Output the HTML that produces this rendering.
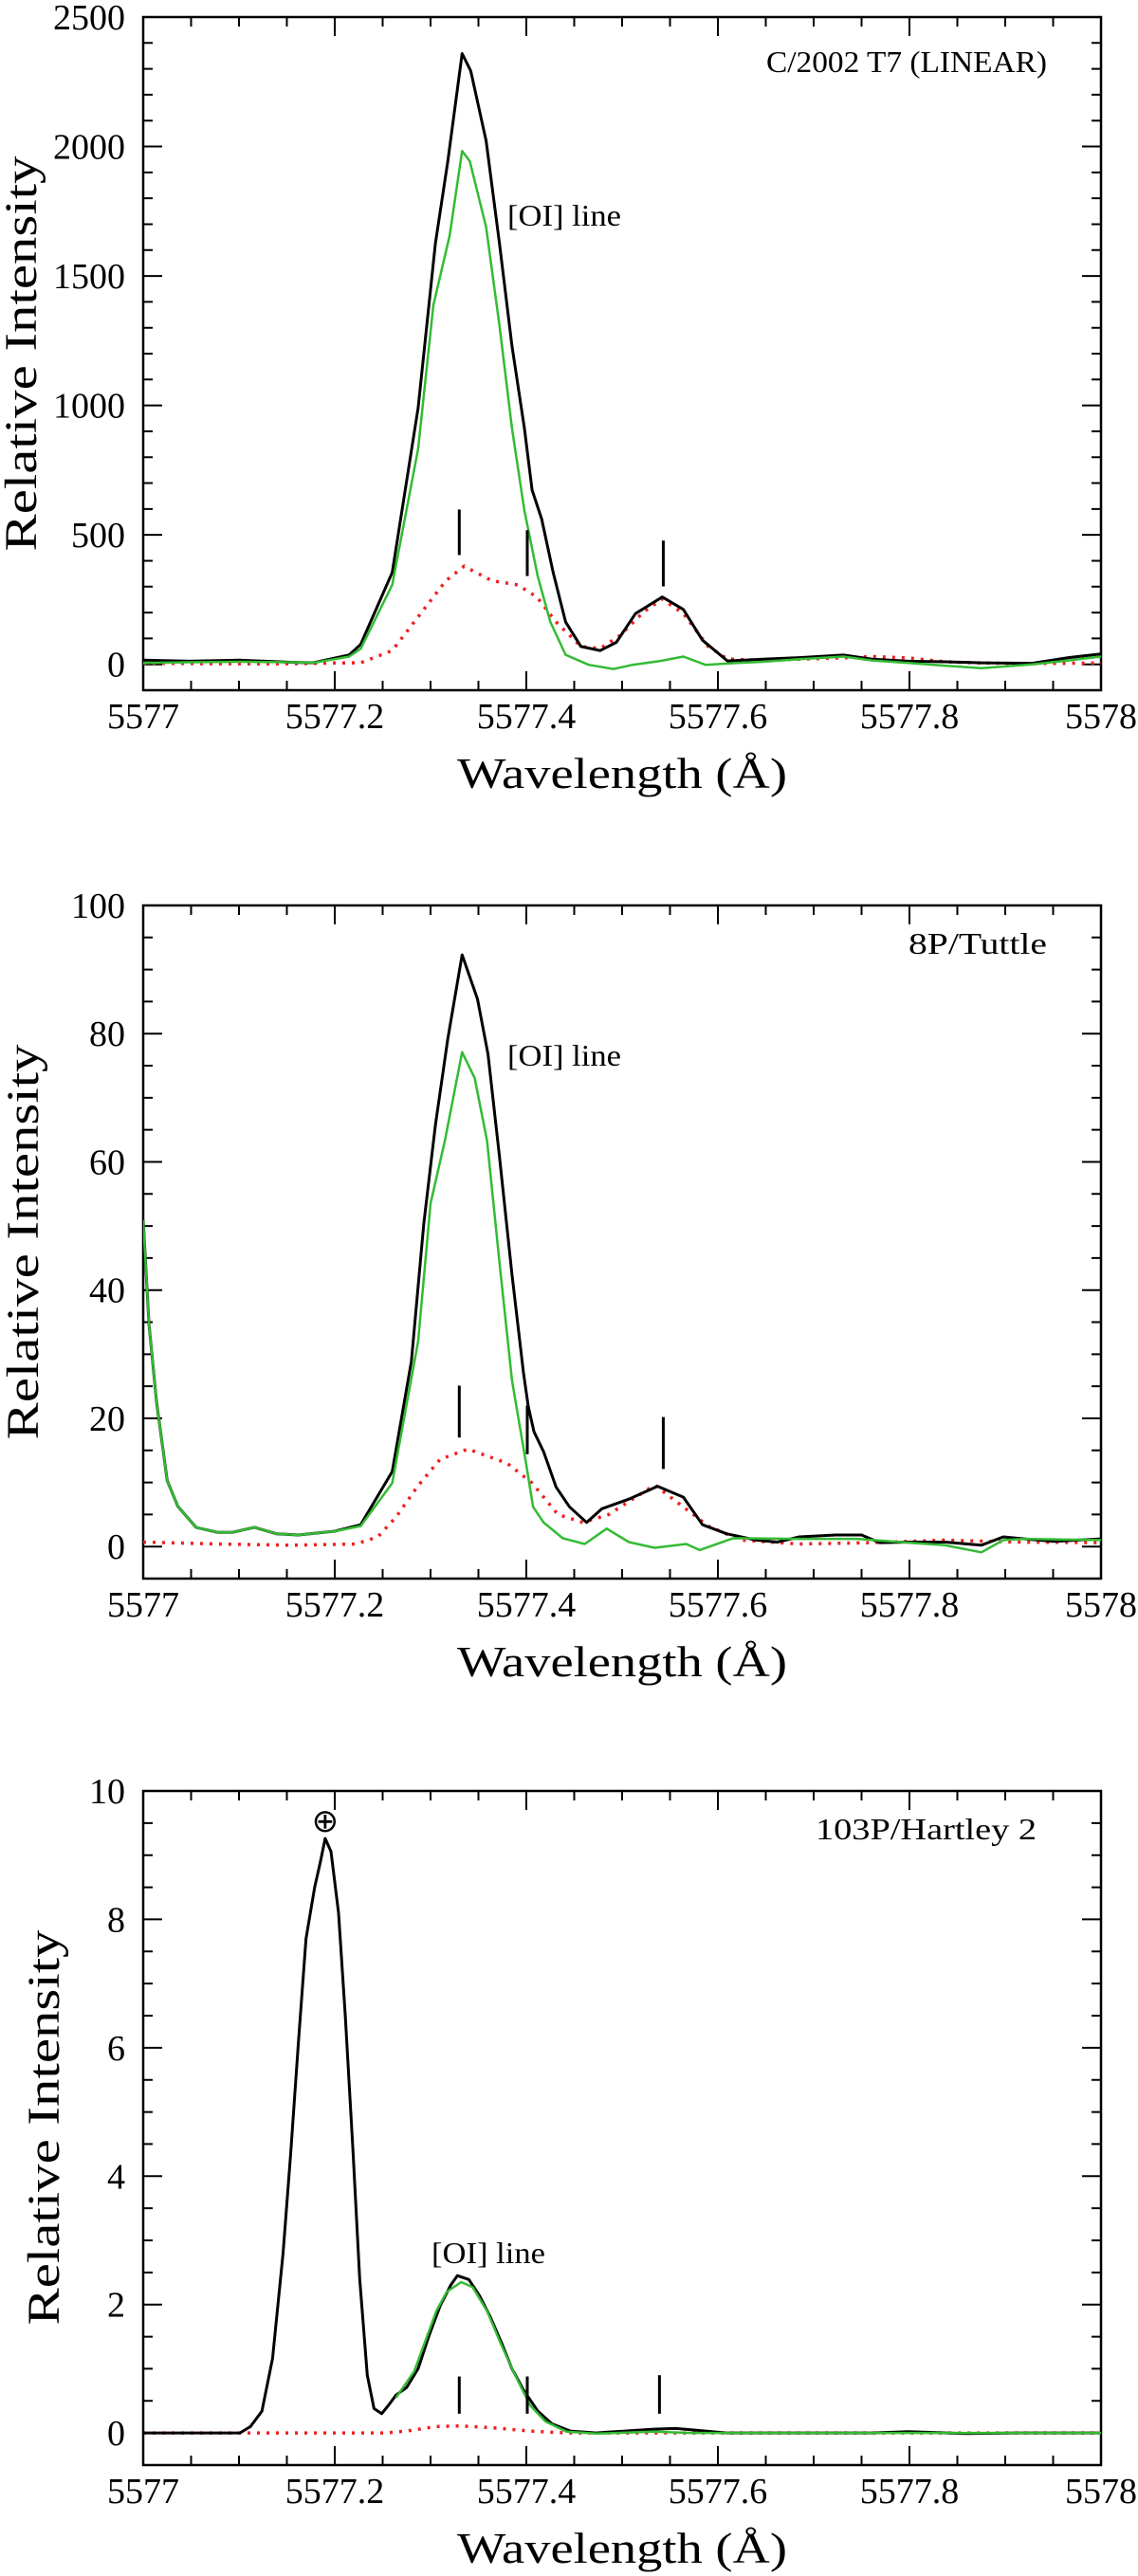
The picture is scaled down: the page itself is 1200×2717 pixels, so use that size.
<!DOCTYPE html>
<html><head><meta charset="utf-8"><style>
html,body{margin:0;padding:0;background:#fff;}
svg{display:block;}
text{font-family:"Liberation Serif",serif;fill:#000;}
</style></head><body>
<svg id="fig" width="1200" height="2717" viewBox="0 0 1200 2717" xmlns="http://www.w3.org/2000/svg"></svg>
<script>
// ===== Panel 1: C/2002 T7 (LINEAR) =====  (wavelength offsets from 5577 Å)
const p1TotWl = [0,.048,.101,.154,.177,.2,.215,.227,.26,.287,.305,.318,.333,.342,.358,.372,.385,.398,.406,.416,.428,.441,.457,.477,.494,.514,.542,.564,.584,.61,.647,.685,.731,.761,.799,.837,.875,.928,.966,1];
const p1Total = [16,12,16,8,6,24,36,77,355,990,1625,1943,2359,2292,2022,1625,1229,911,673,561,355,164,69,53,85,196,260,212,93,13,20,26,36,20,12,10,6,4,26,40];
const p1OIWl = [0,.048,.101,.154,.177,.2,.215,.227,.26,.287,.303,.32,.333,.341,.358,.372,.385,.398,.412,.425,.441,.465,.491,.511,.54,.564,.587,.623,.647,.685,.731,.761,.799,.837,.875,.928,.966,1];
const p1OI = [5,8,10,8,6,20,30,60,307,832,1387,1657,1983,1943,1689,1308,911,593,339,164,37,-2,-18,-2,13,30,-2,6,10,20,30,15,5,-5,-15,0,15,30];
const p1ModWl = [0,.048,.101,.154,.2,.227,.26,.293,.316,.335,.364,.391,.411,.431,.457,.477,.497,.523,.542,.564,.59,.61,.647,.685,.731,.761,.799,.837,.875,.928,1];
const p1Model = [5,3,2,2,5,6,53,212,323,379,323,307,260,164,69,61,109,204,252,196,69,21,15,20,25,30,25,10,5,3,5];
const p1Ticks = [0,500,1000,1500,2000,2500];
const p1Marks = [[.330,422,598],[.401,341,518],[.543,301,478]];

// ===== Panel 2: 8P/Tuttle =====
const p2TotWl = [0,.006,.014,.025,.036,.055,.078,.093,.116,.139,.162,.2,.227,.26,.28,.293,.305,.318,.333,.349,.36,.372,.385,.397,.402,.408,.418,.431,.445,.463,.479,.507,.537,.564,.584,.609,.64,.662,.685,.723,.75,.769,.799,.837,.875,.898,.92,.951,1];
const p2Total = [50.9,34.7,22.5,10.3,6.3,3,2.2,2.2,3,2,1.8,2.4,3.4,11.7,28.9,50.4,65.7,79.2,92.3,85.4,76.8,60.8,42.4,27.1,21.9,17.9,14.8,9.3,6.2,3.75,5.9,7.4,9.4,7.7,3.4,2,1,0.7,1.5,1.8,1.8,0.6,0.7,0.7,0.2,1.5,1.2,0.8,1.2];
const p2OIWl = [0,.006,.014,.025,.036,.055,.078,.093,.116,.139,.162,.2,.227,.26,.287,.3,.315,.333,.346,.359,.372,.385,.399,.407,.418,.438,.461,.484,.507,.534,.567,.581,.616,.685,.746,.799,.837,.875,.898,.92,1];
const p2OI = [50.9,34.7,22.5,10.3,6.3,3,2.2,2.2,3,2,1.8,2.4,3.2,9.9,32,53.5,63.3,77.1,73.1,63.3,44.3,25.9,13.6,6.2,3.75,1.3,0.4,2.8,0.7,-0.2,0.4,-0.55,1.3,1.2,1.2,0.6,0.2,-0.9,1,1.2,1];
const p2ModWl = [0,.078,.154,.222,.245,.264,.287,.31,.339,.38,.406,.433,.459,.486,.534,.59,.624,.685,.761,.837,.913,1];
const p2Model = [0.7,0.4,0.2,0.4,1.5,4.6,9.5,13.6,15.2,13,9.9,5,3.75,5,9.6,3.2,1,0.4,0.6,1,0.7,0.6];
const p2Ticks = [0,20,40,60,80,100];
const p2Marks = [[.330,17,25.1],[.401,14.4,22],[.543,12.1,20.2]];

// ===== Panel 3: 103P/Hartley 2 =====
const p3TotWl = [0,.078,.101,.112,.124,.135,.146,.154,.162,.17,.179,.185,.19,.196,.204,.211,.219,.226,.234,.241,.249,.256,.264,.275,.287,.298,.31,.321,.328,.34,.351,.362,.374,.385,.397,.412,.427,.446,.473,.503,.533,.556,.579,.609,.685,.761,.799,.86,.913,1];
const p3Total = [0,0,0,0.1,0.34,1.16,2.8,4.35,6.07,7.7,8.5,8.9,9.26,9.06,8.1,6.5,4.4,2.4,0.9,0.38,0.3,0.43,0.59,0.71,1.0,1.5,1.98,2.3,2.45,2.39,2.14,1.82,1.41,1.0,0.67,0.34,0.14,0.03,0,0.03,0.06,0.07,0.04,0,0,0,0.02,-0.01,0,0];
const p3OIWl = [.264,.283,.306,.317,.332,.344,.359,.374,.389,.404,.42,.442,.473,.533,.571,.609,1];
const p3OI = [0.55,0.96,1.9,2.2,2.35,2.27,1.9,1.37,0.88,0.43,0.18,0.02,-0.01,0.02,0,0,0];
const p3ModWl = [0,.253,.275,.306,.332,.366,.404,.442,1];
const p3Model = [0,0,0.03,0.1,0.11,0.08,0.03,0,0];
const p3Ticks = [0,2,4,6,8,10];
const p3Marks = [[.330,0.3,0.88],[.401,0.3,0.88],[.539,0.3,0.9]];

const xTickVals = [0,0.2,0.4,0.6,0.8,1.0];
const xTickLabels = ["5577","5577.2","5577.4","5577.6","5577.8","5578"];

const NS = "http://www.w3.org/2000/svg";
const svg = document.getElementById('fig');
const L = 151, R = 1161;
function mk(tag, attrs, parent){
  const e = document.createElementNS(NS, tag);
  for (const k in attrs) e.setAttribute(k, attrs[k]);
  (parent||svg).appendChild(e);
  return e;
}
function panel(cfg){
  const g = mk('g', {});
  
  
  const T = cfg.T, B = cfg.B;
  const X = w => L + w*(R-L);
  const Y = v => B - (v - cfg.ymin)/(cfg.ymax - cfg.ymin)*(B-T);
  const fr = mk('rect', {x:L, y:T, width:R-L, height:B-T, fill:'none', stroke:'#000', 'stroke-width':2.5}, g);
  
  
  let d = '';
  for (let i=0;i<=20;i++){
    const w = i*0.05, x = X(w), len = (i%4===0)?20:10;
    d += `M${x} ${B}V${B-len}M${x} ${T}V${T+len}`;
  }
  const step = cfg.minor;
  const n0 = Math.ceil(cfg.ymin/step), n1 = Math.floor(cfg.ymax/step);
  for (let i=n0;i<=n1;i++){
    const v = i*step, y = Y(v);
    const major = Math.abs(v/cfg.major - Math.round(v/cfg.major))<1e-6;
    const len = major?20:10;
    d += `M${L} ${y}H${L+len}M${R} ${y}H${R-len}`;
  }
  const tk = mk('path', {d, stroke:'#000', 'stroke-width':2, fill:'none'}, g);
  
  
  xTickVals.forEach((w,i)=>{
    const t = mk('text', {x:X(w), y:B+40, 'font-size':38, 'text-anchor':'middle'}, g);
    t.textContent = xTickLabels[i];
    
    
  });
  cfg.ticks.forEach(v=>{
    const t = mk('text', {x:132, y:Y(v)+13, 'font-size':38, 'text-anchor':'end'}, g);
    t.textContent = String(v);
    
    
  });
  const xl = mk('text', {x:482, y:B+103, 'font-size':46, textLength:348, lengthAdjust:'spacingAndGlyphs'}, g);
  xl.textContent = 'Wavelength (Å)';
  
  
  const yc = T+355;
  const yl = mk('text', {x:cfg.ylx, y:yc, 'font-size':48, 'text-anchor':'middle', textLength:417, lengthAdjust:'spacingAndGlyphs', transform:`rotate(-90 ${cfg.ylx} ${yc})`}, g);
  yl.textContent = 'Relative Intensity';
  
  
  const cid = 'clip'+cfg.name;
  const cp = mk('clipPath', {id:cid}, g);
  mk('rect', {x:L, y:T, width:R-L, height:B-T}, cp);
  const pts = (wl, vals) => wl.map((w,i)=>`${X(w).toFixed(1)},${Y(vals[i]).toFixed(1)}`).join(' ');
  const red = mk('polyline', {points:pts(cfg.modWl, cfg.model), fill:'none', stroke:'#ee2020', 'stroke-width':3.5, 'stroke-dasharray':'3 7', 'clip-path':`url(#${cid})`}, g);
  
  
  const blk = mk('polyline', {points:pts(cfg.totWl, cfg.total), fill:'none', stroke:'#000', 'stroke-width':3, 'stroke-linejoin':'round', 'clip-path':`url(#${cid})`}, g);
  
  
  const grn = mk('polyline', {points:pts(cfg.oiWl, cfg.oi), fill:'none', stroke:'#33bb33', 'stroke-width':2.5, 'stroke-linejoin':'round', 'clip-path':`url(#${cid})`}, g);
  
  
  cfg.marks.forEach(m=>{
    const ln = mk('line', {x1:X(m[0]), x2:X(m[0]), y1:Y(m[1]), y2:Y(m[2]), stroke:'#000', 'stroke-width':3}, g);
    
    
  });
  const oi = mk('text', {x:cfg.oiX, y:cfg.oiY, 'font-size':32, textLength:120, lengthAdjust:'spacingAndGlyphs'}, g);
  oi.textContent = '[OI] line';
  
  
  const nm = mk('text', {x:cfg.nameX, y:cfg.nameY, 'font-size':32, textLength:cfg.nameW, lengthAdjust:'spacingAndGlyphs'}, g);
  nm.textContent = cfg.title;
  
  
  return {X, Y, g};
}
panel({name:'panel-c2002t7', T:18, B:728, ymin:-100, ymax:2500, major:500, minor:100, ticks:p1Ticks,
  totWl:p1TotWl, total:p1Total, oiWl:p1OIWl, oi:p1OI, modWl:p1ModWl, model:p1Model, marks:p1Marks,
  oiX:535, oiY:238, nameX:808, nameY:76, nameW:296, title:'C/2002 T7 (LINEAR)', ylx:38});
panel({name:'panel-8p-tuttle', T:955, B:1665, ymin:-5, ymax:100, major:20, minor:5, ticks:p2Ticks,
  totWl:p2TotWl, total:p2Total, oiWl:p2OIWl, oi:p2OI, modWl:p2ModWl, model:p2Model, marks:p2Marks,
  oiX:535, oiY:1124, nameX:958, nameY:1006, nameW:146, title:'8P/Tuttle', ylx:40});
const p3 = panel({name:'panel-103p-hartley2', T:1889, B:2600, ymin:-0.5, ymax:10, major:2, minor:0.5, ticks:p3Ticks,
  totWl:p3TotWl, total:p3Total, oiWl:p3OIWl, oi:p3OI, modWl:p3ModWl, model:p3Model, marks:p3Marks,
  oiX:455, oiY:2387, nameX:860, nameY:1940, nameW:233, title:'103P/Hartley 2', ylx:62});
const earth = mk('text', {x:p3.X(0.19), y:1932, 'font-size':34, 'text-anchor':'middle'}, p3.g);
earth.textContent = '⊕';


</script>
</body></html>
